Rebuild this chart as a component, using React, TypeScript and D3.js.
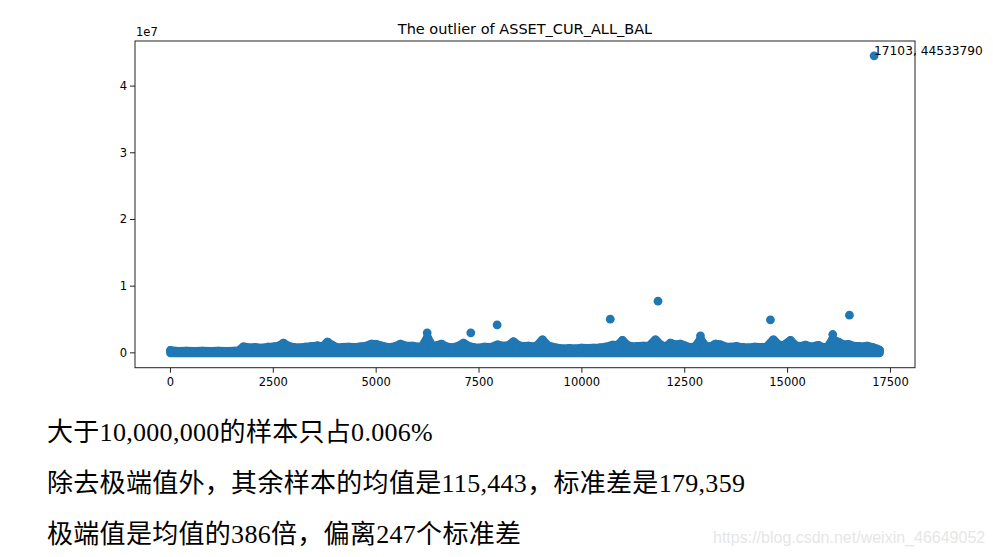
import React from "react";
import * as d3 from "d3";

// Upper envelope of the dense cloud of points (sample index)
const envIndex = [
  0, 194, 389, 583, 778, 972, 1167, 1361, 1556, 1653,
  1774, 1920, 2066, 2236, 2382, 2503, 2625, 2746, 2868, 2990,
  3135, 3281, 3427, 3573, 3695, 3816, 3938, 4059, 4181, 4326,
  4472, 4618, 4764, 4886, 5007, 5153, 5299, 5445, 5590, 5736,
  5882, 6028, 6125, 6247, 6368, 6490, 6587, 6708, 6854, 7000,
  7122, 7243, 7365, 7486, 7632, 7778, 7948, 8094, 8215, 8337,
  8458, 8580, 8702, 8823, 8920, 9042, 9163, 9285, 9406, 9552,
  9698, 9844, 9990, 10136, 10281, 10427, 10573, 10743, 10865, 10986,
  11108, 11229, 11351, 11497, 11643, 11788, 11910, 12031, 12153, 12275,
  12396, 12518, 12639, 12761, 12882, 13004, 13125, 13247, 13368, 13490,
  13611, 13757, 13903, 14049, 14195, 14341, 14486, 14656, 14778, 14900,
  15070, 15191, 15313, 15434, 15556, 15677, 15750, 15872, 15969, 16091,
  16236, 16358, 16479, 16601, 16723, 16844, 16941, 17063, 17160, 17235,
];
// Envelope values in millions
const envValueM = [
  0.35, 0.22, 0.25, 0.22, 0.25, 0.22, 0.25, 0.22, 0.27, 0.3,
  0.9, 0.75, 0.8, 0.7, 0.85, 0.9, 1.0, 1.45, 1.0, 0.8,
  0.75, 0.85, 0.95, 1.05, 0.9, 1.6, 1.1, 0.75, 0.8, 0.85,
  0.8, 0.9, 1.0, 1.3, 1.25, 1.0, 0.8, 0.9, 1.3, 1.0,
  1.0, 0.85, 1.0, 2.3, 0.95, 1.1, 1.3, 0.9, 0.75, 1.0,
  1.45, 1.0, 0.8, 0.7, 0.85, 0.8, 1.2, 1.0, 1.1, 1.65,
  1.1, 0.95, 1.0, 0.9, 1.1, 1.95, 1.1, 0.85, 0.7, 0.6,
  0.65, 0.6, 0.7, 0.65, 0.7, 0.75, 0.85, 1.15, 1.1, 1.85,
  1.1, 0.9, 0.95, 1.0, 1.05, 1.95, 1.2, 0.85, 1.45, 1.2,
  1.3, 1.0, 0.8, 0.95, 2.0, 1.0, 0.9, 1.3, 1.2, 0.9,
  0.85, 0.95, 0.8, 0.75, 0.85, 0.8, 0.85, 1.95, 1.2, 1.1,
  1.85, 1.1, 0.95, 1.15, 0.85, 1.0, 1.1, 0.8, 0.8, 2.0,
  1.6, 1.2, 1.25, 1.0, 0.95, 0.9, 1.0, 0.8, 0.6, 0.4,
];

// Isolated points above the cloud
const outlierIndex = [6240, 7300, 7940, 10690, 11850, 12882, 14583, 16098, 16503, 17103];
const outlierValue = [3000000, 3000000, 4200000, 5050000, 7750000, 2550000, 4950000, 2750000, 5650000, 44533790];

const xTicks = [0, 2500, 5000, 7500, 10000, 12500, 15000, 17500];
const yTicks = [0, 1e7, 2e7, 3e7, 4e7];
const nSamples = 17235;

const textLines = [
  "大于10,000,000的样本只占0.006%",
  "除去极端值外，其余样本的均值是115,443，标准差是179,359",
  "极端值是均值的386倍，偏离247个标准差",
];

const W = 993, H = 557;
const L = 135, R = 915, T = 41, B = 367.7;
const COLOR = "#1f77b4";
const FONT = "DejaVu Sans, sans-serif";
const RAD = 4.4;

export default function App() {
  const maxV = d3.max(outlierValue) as number;
  const x = d3.scaleLinear().domain([-0.05 * nSamples, 1.05 * nSamples]).range([L, R]);
  const y = d3.scaleLinear().domain([-0.05 * maxV, 1.05 * maxV]).range([B, T]);
  const envData = envIndex.map((d, i) => [d, envValueM[i] * 1e6] as [number, number]);
  const area = d3.area<[number, number]>()
    .x((d) => x(d[0]))
    .y0(() => y(0))
    .y1((d) => y(d[1]));

  return (
    <div style={{ position: "absolute", left: 0, top: 0 }}>
      <svg width={W} height={H} style={{ display: "block", background: "#fff" }}>
        <defs>
          <clipPath id="plot">
            <rect x={L} y={T} width={R - L} height={B - T} />
          </clipPath>
        </defs>
        <g clipPath="url(#plot)">
          <path d={area(envData) || ""} fill={COLOR} stroke={COLOR} strokeWidth={RAD * 2} strokeLinejoin="round" />
          {envData.map((d, i) => (
            <circle key={"e" + i} cx={x(d[0])} cy={y(d[1])} r={RAD} fill={COLOR} />
          ))}
          {outlierIndex.map((d, i) => (
            <circle key={"o" + i} cx={x(d)} cy={y(outlierValue[i])} r={RAD} fill={COLOR} />
          ))}
        </g>
        <rect x={L} y={T} width={R - L} height={B - T} fill="none" stroke="#222" strokeWidth={1} />
        {xTicks.map((t) => (
          <g key={"x" + t}>
            <line x1={x(t)} x2={x(t)} y1={B} y2={B + 5} stroke="#222" />
            <text x={x(t)} y={B + 18} textAnchor="middle" fontFamily={FONT} fontSize={11.5} fill="#000">{t}</text>
          </g>
        ))}
        {yTicks.map((t) => (
          <g key={"y" + t}>
            <line x1={L - 5} x2={L} y1={y(t)} y2={y(t)} stroke="#222" />
            <text x={L - 8} y={y(t) + 4} textAnchor="end" fontFamily={FONT} fontSize={11.5} fill="#000">{t / 1e7}</text>
          </g>
        ))}
        <text x={L + 1} y={36} fontFamily={FONT} fontSize={11.5} fill="#000">1e7</text>
        <text x={(L + R) / 2} y={33.5} textAnchor="middle" fontFamily={FONT} fontSize={14.5} fill="#000">The outlier of ASSET_CUR_ALL_BAL</text>
        <text x={x(outlierIndex[9])} y={y(outlierValue[9]) - 1} fontFamily={FONT} fontSize={12.2} fill="#000">
          {outlierIndex[9] + ", " + outlierValue[9]}
        </text>
        {textLines.map((s, i) => (
          <text key={"t" + i} x={47} y={441 + i * 51} fontFamily="'Liberation Serif', 'Noto Sans CJK SC', serif" fontSize={26} letterSpacing={0.3} fill="#000">{s}</text>
        ))}
        <text x={713} y={543} fontFamily="'Liberation Sans', sans-serif" fontSize={16} fill="#e6e6e6">https://blog.csdn.net/weixin_46649052</text>
      </svg>
    </div>
  );
}
